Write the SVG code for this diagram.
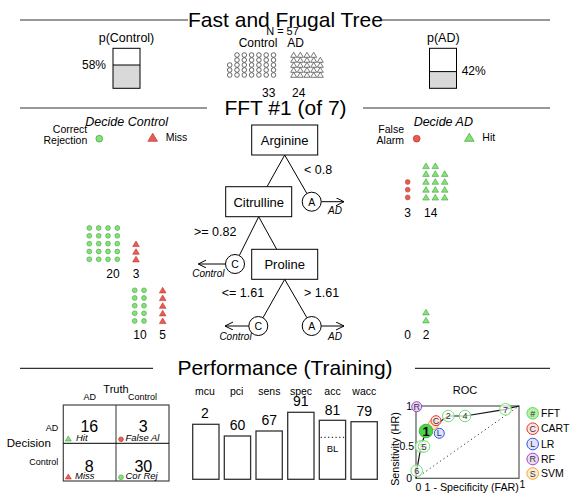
<svg xmlns="http://www.w3.org/2000/svg" xmlns:xlink="http://www.w3.org/1999/xlink" width="570" height="500" viewBox="0 0 570 500">
<style>
text{font-family:"Liberation Sans",Arial,sans-serif;fill:#000}
.ttl{font-size:21px;text-anchor:middle}
.c{text-anchor:middle}
.r{text-anchor:end}
.it{font-style:italic}
.hl{stroke:#333;stroke-width:1.2}
.box{fill:#fff;stroke:#000;stroke-width:1}
.cn{stroke:#000;stroke-width:1;fill:none}
.bar{fill:#fff;stroke:#333;stroke-width:1.3}
.num{fill:#fff;fill-opacity:.7;stroke:#6fe36f;stroke-width:1}
.nt{font-size:9px;text-anchor:middle;fill:#333}
</style>
<defs>
<circle id="co" r="2.3" fill="#fff" stroke="#444" stroke-width="0.8"/>
<path id="to" d="M-3,2.3 L3,2.3 L0,-2.7 Z" fill="#fff" stroke="#555" stroke-width="0.8"/>
<circle id="gc" r="2.4" fill="#84e374" stroke="#3f9f3f" stroke-width="0.6"/>
<circle id="rc" r="2.4" fill="#ec5a52" stroke="#b53a34" stroke-width="0.6"/>
<path id="rt" d="M-3.3,2.6 L3.3,2.6 L0,-3 Z" fill="#ec5a52" stroke="#b53a34" stroke-width="0.6"/>
<path id="gt" d="M-3.3,2.6 L3.3,2.6 L0,-3 Z" fill="#84e374" stroke="#3f9f3f" stroke-width="0.6"/>
<marker id="ah" markerUnits="userSpaceOnUse" markerWidth="10" markerHeight="10" refX="8" refY="4" orient="auto">
<path d="M0,0 L8,4 L0,8" fill="none" stroke="#000" stroke-width="1"/>
</marker>
</defs>

<g id="header">
<line class="hl" x1="20" y1="20" x2="188" y2="20"/>
<line class="hl" x1="382" y1="20" x2="550" y2="20"/>
<text class="ttl" x="285.5" y="27">Fast and Frugal Tree</text>
<text class="c" x="282.5" y="35" font-size="11">N = 57</text>
<text class="c" x="258" y="46.5" font-size="12">Control</text>
<text class="c" x="295.5" y="46.5" font-size="12">AD</text>
</g>

<g id="p-control">
<text class="c" x="126.5" y="42" font-size="12.5">p(Control)</text>
<rect x="113" y="65" width="27" height="23.3" fill="#d9d9d9"/>
<rect x="113" y="48.3" width="27" height="40" fill="none" stroke="#000" stroke-width="1"/>
<line x1="113" y1="65" x2="140" y2="65" stroke="#000" stroke-width="1"/>
<text class="r" x="106" y="68.5" font-size="12">58%</text>
</g>

<g id="p-ad">
<text class="c" x="443.3" y="42" font-size="12.5">p(AD)</text>
<rect x="429.5" y="71.6" width="27" height="16.7" fill="#d9d9d9"/>
<rect x="429.5" y="48.3" width="27" height="40" fill="none" stroke="#000" stroke-width="1"/>
<line x1="429.5" y1="71.6" x2="456.5" y2="71.6" stroke="#000" stroke-width="1"/>
<text x="461.7" y="75" font-size="12">42%</text>
</g>

<g id="icons-control">
<use xlink:href="#co" x="237" y="55"/><use xlink:href="#co" x="244.3" y="55"/><use xlink:href="#co" x="251.6" y="55"/><use xlink:href="#co" x="258.9" y="55"/><use xlink:href="#co" x="266.2" y="55"/><use xlink:href="#co" x="273.5" y="55"/>
<use xlink:href="#co" x="237" y="60"/><use xlink:href="#co" x="244.3" y="60"/><use xlink:href="#co" x="251.6" y="60"/><use xlink:href="#co" x="258.9" y="60"/><use xlink:href="#co" x="266.2" y="60"/><use xlink:href="#co" x="273.5" y="60"/>
<use xlink:href="#co" x="229.7" y="65"/><use xlink:href="#co" x="237" y="65"/><use xlink:href="#co" x="244.3" y="65"/><use xlink:href="#co" x="251.6" y="65"/><use xlink:href="#co" x="258.9" y="65"/><use xlink:href="#co" x="266.2" y="65"/><use xlink:href="#co" x="273.5" y="65"/>
<use xlink:href="#co" x="229.7" y="70"/><use xlink:href="#co" x="237" y="70"/><use xlink:href="#co" x="244.3" y="70"/><use xlink:href="#co" x="251.6" y="70"/><use xlink:href="#co" x="258.9" y="70"/><use xlink:href="#co" x="266.2" y="70"/><use xlink:href="#co" x="273.5" y="70"/>
<use xlink:href="#co" x="229.7" y="75"/><use xlink:href="#co" x="237" y="75"/><use xlink:href="#co" x="244.3" y="75"/><use xlink:href="#co" x="251.6" y="75"/><use xlink:href="#co" x="258.9" y="75"/><use xlink:href="#co" x="266.2" y="75"/><use xlink:href="#co" x="273.5" y="75"/>
<text class="c" x="268.7" y="97" font-size="12">33</text>
</g>

<g id="icons-ad">
<use xlink:href="#to" x="293.7" y="55"/><use xlink:href="#to" x="300.3" y="55"/><use xlink:href="#to" x="307" y="55"/><use xlink:href="#to" x="313.7" y="55"/>
<use xlink:href="#to" x="293.7" y="60"/><use xlink:href="#to" x="300.3" y="60"/><use xlink:href="#to" x="307" y="60"/><use xlink:href="#to" x="313.7" y="60"/><use xlink:href="#to" x="320.3" y="60"/>
<use xlink:href="#to" x="293.7" y="65"/><use xlink:href="#to" x="300.3" y="65"/><use xlink:href="#to" x="307" y="65"/><use xlink:href="#to" x="313.7" y="65"/><use xlink:href="#to" x="320.3" y="65"/>
<use xlink:href="#to" x="293.7" y="70"/><use xlink:href="#to" x="300.3" y="70"/><use xlink:href="#to" x="307" y="70"/><use xlink:href="#to" x="313.7" y="70"/><use xlink:href="#to" x="320.3" y="70"/>
<use xlink:href="#to" x="293.7" y="75"/><use xlink:href="#to" x="300.3" y="75"/><use xlink:href="#to" x="307" y="75"/><use xlink:href="#to" x="313.7" y="75"/><use xlink:href="#to" x="320.3" y="75"/>
<text class="c" x="298.7" y="97" font-size="12">24</text>
</g>

<g id="tree-title">
<line class="hl" x1="20" y1="108" x2="207" y2="108"/>
<line class="hl" x1="363" y1="108" x2="550" y2="108"/>
<text class="ttl" x="285.5" y="114.5">FFT #1 (of 7)</text>
</g>

<g id="legend-control">
<text class="c it" x="126.7" y="126" font-size="12.5">Decide Control</text>
<text class="r" x="87.3" y="133" font-size="10.5" fill="#333">Correct</text>
<text class="r" x="87.3" y="144" font-size="10.5" fill="#333">Rejection</text>
<circle cx="99.3" cy="138.7" r="3.4" fill="#84e374" stroke="#3f9f3f" stroke-width="0.7"/>
<path d="M147.9,141.3 L157.5,141.3 L152.7,133.3 Z" fill="#ec5a52" stroke="#b53a34" stroke-width="0.7"/>
<text x="165.7" y="141" font-size="10.5" fill="#333">Miss</text>
</g>

<g id="legend-ad">
<text class="c it" x="443.3" y="126" font-size="12.5">Decide AD</text>
<text class="r" x="404" y="133" font-size="10.5" fill="#333">False</text>
<text class="r" x="404" y="144" font-size="10.5" fill="#333">Alarm</text>
<circle cx="416.7" cy="138.7" r="3.4" fill="#ec5a52" stroke="#b53a34" stroke-width="0.7"/>
<path d="M464.5,141.3 L474.1,141.3 L469.3,133.3 Z" fill="#84e374" stroke="#3f9f3f" stroke-width="0.7"/>
<text x="482.3" y="141" font-size="10.5" fill="#333">Hit</text>
</g>

<g id="connectors">
<line class="cn" x1="284.7" y1="155" x2="267" y2="186.7"/>
<line class="cn" x1="284.7" y1="155" x2="306.9" y2="193.5"/>
<line class="cn" x1="258.7" y1="216.7" x2="239.3" y2="255.5"/>
<line class="cn" x1="258.7" y1="216.7" x2="276.7" y2="249.3"/>
<line class="cn" x1="284.7" y1="279.3" x2="263" y2="317.7"/>
<line class="cn" x1="284.7" y1="279.3" x2="306.9" y2="317.7"/>
<line class="cn" x1="321.2" y1="201.7" x2="344" y2="201.7" marker-end="url(#ah)"/>
<line class="cn" x1="225.5" y1="264" x2="198.3" y2="264" marker-end="url(#ah)"/>
<line class="cn" x1="248.8" y1="326" x2="225" y2="326" marker-end="url(#ah)"/>
<line class="cn" x1="321.2" y1="326" x2="344" y2="326" marker-end="url(#ah)"/>
<text x="304" y="174" font-size="12.5">&lt; 0.8</text>
<text x="194" y="236" font-size="12.5">&gt;= 0.82</text>
<text x="221.7" y="296.7" font-size="12.5">&lt;= 1.61</text>
<text x="304" y="296.7" font-size="12.5">&gt; 1.61</text>
<text class="c it" x="335" y="214.3" font-size="10">AD</text>
<text class="c it" x="208.3" y="277" font-size="10">Control</text>
<text class="c it" x="235.5" y="340" font-size="10">Control</text>
<text class="c it" x="335" y="340" font-size="10">AD</text>
</g>

<g id="node-arginine">
<rect class="box" x="251.7" y="125" width="66" height="30"/>
<text class="c" x="284.7" y="145" font-size="13">Arginine</text>
</g>
<g id="node-citrulline">
<rect class="box" x="225.7" y="186.7" width="66" height="30"/>
<text class="c" x="258.7" y="206.7" font-size="13">Citrulline</text>
</g>
<g id="node-proline">
<rect class="box" x="251.7" y="249.3" width="66" height="30"/>
<text class="c" x="284.7" y="269.3" font-size="13">Proline</text>
</g>
<g id="exit-a1">
<circle cx="311.7" cy="201.7" r="9.5" fill="#fff" stroke="#000" stroke-width="1"/>
<text class="c" x="311.7" y="205.5" font-size="10.5">A</text>
</g>
<g id="exit-c2">
<circle cx="235" cy="264" r="9.5" fill="#fff" stroke="#000" stroke-width="1"/>
<text class="c" x="235" y="267.8" font-size="10.5">C</text>
</g>
<g id="exit-c3">
<circle cx="258.3" cy="326" r="9.5" fill="#fff" stroke="#000" stroke-width="1"/>
<text class="c" x="258.3" y="329.8" font-size="10.5">C</text>
</g>
<g id="exit-a3">
<circle cx="311.7" cy="326" r="9.5" fill="#fff" stroke="#000" stroke-width="1"/>
<text class="c" x="311.7" y="329.8" font-size="10.5">A</text>
</g>

<g id="array-c2">
<use xlink:href="#gc" x="89.3" y="228"/><use xlink:href="#gc" x="98.7" y="228"/><use xlink:href="#gc" x="108" y="228"/><use xlink:href="#gc" x="117.3" y="228"/>
<use xlink:href="#gc" x="89.3" y="235.8"/><use xlink:href="#gc" x="98.7" y="235.8"/><use xlink:href="#gc" x="108" y="235.8"/><use xlink:href="#gc" x="117.3" y="235.8"/>
<use xlink:href="#gc" x="89.3" y="243.7"/><use xlink:href="#gc" x="98.7" y="243.7"/><use xlink:href="#gc" x="108" y="243.7"/><use xlink:href="#gc" x="117.3" y="243.7"/>
<use xlink:href="#gc" x="89.3" y="251.5"/><use xlink:href="#gc" x="98.7" y="251.5"/><use xlink:href="#gc" x="108" y="251.5"/><use xlink:href="#gc" x="117.3" y="251.5"/>
<use xlink:href="#gc" x="89.3" y="259.3"/><use xlink:href="#gc" x="98.7" y="259.3"/><use xlink:href="#gc" x="108" y="259.3"/><use xlink:href="#gc" x="117.3" y="259.3"/>
<use xlink:href="#rt" x="136" y="244"/><use xlink:href="#rt" x="136" y="251.7"/><use xlink:href="#rt" x="136" y="259.3"/>
<text class="c" x="113" y="278.3" font-size="12">20</text>
<text class="c" x="136" y="278.3" font-size="12">3</text>
</g>

<g id="array-c3">
<use xlink:href="#gc" x="134.7" y="290.3"/><use xlink:href="#gc" x="144" y="290.3"/>
<use xlink:href="#gc" x="134.7" y="298"/><use xlink:href="#gc" x="144" y="298"/>
<use xlink:href="#gc" x="134.7" y="305.7"/><use xlink:href="#gc" x="144" y="305.7"/>
<use xlink:href="#gc" x="134.7" y="313.3"/><use xlink:href="#gc" x="144" y="313.3"/>
<use xlink:href="#gc" x="134.7" y="321"/><use xlink:href="#gc" x="144" y="321"/>
<use xlink:href="#rt" x="162.7" y="290.3"/><use xlink:href="#rt" x="162.7" y="298"/><use xlink:href="#rt" x="162.7" y="305.7"/><use xlink:href="#rt" x="162.7" y="313.3"/><use xlink:href="#rt" x="162.7" y="321"/>
<text class="c" x="140" y="339.3" font-size="12">10</text>
<text class="c" x="162.7" y="339.3" font-size="12">5</text>
</g>

<g id="array-a1">
<use xlink:href="#rc" x="407.7" y="182"/><use xlink:href="#rc" x="407.7" y="189.7"/><use xlink:href="#rc" x="407.7" y="197.5"/>
<use xlink:href="#gt" x="426" y="166"/><use xlink:href="#gt" x="435.3" y="166"/>
<use xlink:href="#gt" x="426" y="173.8"/><use xlink:href="#gt" x="435.3" y="173.8"/><use xlink:href="#gt" x="444.7" y="173.8"/>
<use xlink:href="#gt" x="426" y="181.7"/><use xlink:href="#gt" x="435.3" y="181.7"/><use xlink:href="#gt" x="444.7" y="181.7"/>
<use xlink:href="#gt" x="426" y="189.6"/><use xlink:href="#gt" x="435.3" y="189.6"/><use xlink:href="#gt" x="444.7" y="189.6"/>
<use xlink:href="#gt" x="426" y="197.4"/><use xlink:href="#gt" x="435.3" y="197.4"/><use xlink:href="#gt" x="444.7" y="197.4"/>
<text class="c" x="407.7" y="216.7" font-size="12">3</text>
<text class="c" x="430.7" y="216.7" font-size="12">14</text>
</g>

<g id="array-a3">
<use xlink:href="#gt" x="426" y="312.3"/><use xlink:href="#gt" x="426" y="320.3"/>
<text class="c" x="407.7" y="339.3" font-size="12">0</text>
<text class="c" x="426" y="339.3" font-size="12">2</text>
</g>

<g id="perf-title">
<line class="hl" x1="20" y1="368.3" x2="153" y2="368.3"/>
<line class="hl" x1="415" y1="368.3" x2="550" y2="368.3"/>
<text class="ttl" x="285" y="375">Performance (Training)</text>
</g>

<g id="confusion">
<text class="c" x="116" y="393.3" font-size="11">Truth</text>
<text class="c" x="89.7" y="400" font-size="9">AD</text>
<text class="c" x="142.5" y="400" font-size="9">Control</text>
<text class="r" x="58.3" y="430.7" font-size="9">AD</text>
<text x="6.7" y="447.3" font-size="11.5">Decision</text>
<text class="r" x="58.3" y="465" font-size="9">Control</text>
<rect x="63.3" y="405" width="105.7" height="76" fill="none" stroke="#444" stroke-width="1.2"/>
<line x1="116" y1="405" x2="116" y2="481" stroke="#333" stroke-width="1"/>
<line x1="63.3" y1="443.3" x2="169" y2="443.3" stroke="#000" stroke-width="1"/>
<text class="c" x="89.3" y="431.7" font-size="16">16</text>
<text class="c" x="143.3" y="431.7" font-size="16">3</text>
<text class="c" x="89.3" y="471.7" font-size="16">8</text>
<text class="c" x="143.3" y="471.7" font-size="16">30</text>
<path d="M65.3,441 L71.3,441 L68.3,436 Z" fill="#84e374" stroke="#3f9f3f" stroke-width="0.6"/>
<text class="it" x="76" y="441" font-size="9.5">Hit</text>
<circle cx="121" cy="439.3" r="2.4" fill="#ec5a52" stroke="#b53a34" stroke-width="0.6"/>
<text class="it" x="125.5" y="441" font-size="9.5">False Al</text>
<path d="M65.3,479 L71.3,479 L68.3,474 Z" fill="#ec5a52" stroke="#b53a34" stroke-width="0.6"/>
<text class="it" x="75" y="479.3" font-size="9.5">Miss</text>
<circle cx="121" cy="477.3" r="2.4" fill="#84e374" stroke="#3f9f3f" stroke-width="0.6"/>
<text class="it" x="125.5" y="479.3" font-size="9.5">Cor Rej</text>
</g>

<g id="bars">
<text class="c" x="205" y="395" font-size="10.5">mcu</text>
<text class="c" x="236.7" y="395" font-size="10.5">pci</text>
<text class="c" x="269.3" y="395" font-size="10.5">sens</text>
<text class="c" x="301" y="395" font-size="10.5">spec</text>
<text class="c" x="332.5" y="395" font-size="10.5">acc</text>
<text class="c" x="364.3" y="395" font-size="10.5">wacc</text>
<rect class="bar" x="192.7" y="424.3" width="26.3" height="55"/>
<rect class="bar" x="224.3" y="436" width="26.3" height="43.3"/>
<rect class="bar" x="256" y="431" width="26.3" height="48.3"/>
<rect class="bar" x="287.7" y="412.3" width="26.3" height="67"/>
<rect class="bar" x="319.3" y="420.3" width="26.3" height="59"/>
<rect class="bar" x="351" y="421.7" width="26.3" height="57.6"/>
<text class="c" x="205" y="418.3" font-size="14">2</text>
<text class="c" x="237.5" y="430" font-size="14">60</text>
<text class="c" x="269.2" y="425" font-size="14">67</text>
<text class="c" x="300.8" y="406.3" font-size="14">91</text>
<text class="c" x="332.5" y="415" font-size="14">81</text>
<text class="c" x="364.2" y="415.7" font-size="14">79</text>
<line x1="320.7" y1="437.3" x2="344.3" y2="437.3" stroke="#000" stroke-width="1" stroke-dasharray="1.2,2.5"/>
<text class="c" x="332.5" y="451.7" font-size="9.5">BL</text>
</g>

<g id="roc">
<text class="c" x="465" y="394" font-size="11">ROC</text>
<rect x="416" y="406" width="103" height="72.3" fill="none" stroke="#555" stroke-width="1.2"/>
<line x1="416" y1="478.3" x2="519" y2="406" stroke="#333" stroke-width="1" stroke-dasharray="1.2,3"/>
<text class="r" x="412" y="410" font-size="10.5">1</text>
<text class="r" x="414" y="450" font-size="10.5">0.5</text>
<text class="r" x="412" y="482" font-size="10.5">0</text>
<text class="c" x="418.3" y="491" font-size="10.5">0</text>
<text class="c" x="522.3" y="488" font-size="10.5">1</text>
<text class="c" x="471.7" y="491" font-size="10.7">1 - Specificity (FAR)</text>
<text class="c" x="0" y="0" font-size="10.7" transform="translate(398.5,449) rotate(-90)">Sensitivity (HR)</text>
<polyline points="416,478.3 416.7,470.7 421,446.5 426,431 448.3,416 465,416 505.5,409.3 519,406" fill="none" stroke="#111" stroke-width="1.2"/>
<circle cx="416.7" cy="406.7" r="5" fill="#e6d6f5" stroke="#a040d0" stroke-width="1"/>
<text class="nt" x="416.7" y="409.8">R</text>
<circle cx="433.3" cy="424.5" r="5" fill="#fde8cc" stroke="#f5a030" stroke-width="1"/>
<circle cx="436" cy="420.7" r="5" fill="#fde0e0" fill-opacity="0.8" stroke="#e63030" stroke-width="1"/>
<text class="nt" x="436" y="423.8">C</text>
<circle cx="439.3" cy="433.3" r="5" fill="#dfe2ff" stroke="#3050e6" stroke-width="1"/>
<text class="nt" x="439.3" y="436.4">L</text>
<circle class="num" cx="416.7" cy="470.7" r="5.8"/><text class="nt" x="416.7" y="473.9">6</text>
<circle class="num" cx="421" cy="446.5" r="5.8"/><text class="nt" x="421" y="449.7">3</text>
<circle class="num" cx="424" cy="446.5" r="5.8"/><text class="nt" x="424" y="449.7">5</text>
<circle class="num" cx="448.3" cy="416" r="5.8"/><text class="nt" x="448.3" y="419.2">2</text>
<circle class="num" cx="465" cy="416" r="5.8"/><text class="nt" x="465" y="419.2">4</text>
<circle class="num" cx="505.5" cy="409.3" r="5.8"/><text class="nt" x="505.5" y="412.5">7</text>
<circle cx="426" cy="431" r="6.8" fill="#4fd34f" stroke="#3bb83b" stroke-width="1"/>
<text class="c" x="426" y="435.6" font-size="13" font-weight="bold">1</text>
</g>

<g id="roc-legend">
<circle cx="532.7" cy="413.3" r="5.8" fill="#b6f0aa" stroke="#5ed85e" stroke-width="1"/>
<text class="nt" x="532.7" y="416.5">#</text>
<text x="541" y="417" font-size="10.5">FFT</text>
<circle cx="532.7" cy="428.7" r="5.8" fill="#fde2e2" stroke="#e63030" stroke-width="1"/>
<text class="nt" x="532.7" y="431.9">C</text>
<text x="541" y="432.3" font-size="10.5">CART</text>
<circle cx="532.7" cy="444" r="5.8" fill="#e2e4ff" stroke="#3050e6" stroke-width="1"/>
<text class="nt" x="532.7" y="447.2">L</text>
<text x="541" y="447.6" font-size="10.5">LR</text>
<circle cx="532.7" cy="459" r="5.8" fill="#ecdcf7" stroke="#a040d0" stroke-width="1"/>
<text class="nt" x="532.7" y="462.2">R</text>
<text x="541" y="462.6" font-size="10.5">RF</text>
<circle cx="532.7" cy="473.5" r="5.8" fill="#fdecd2" stroke="#f5a030" stroke-width="1"/>
<text class="nt" x="532.7" y="476.7">S</text>
<text x="541" y="477.1" font-size="10.5">SVM</text>
</g>
</svg>
